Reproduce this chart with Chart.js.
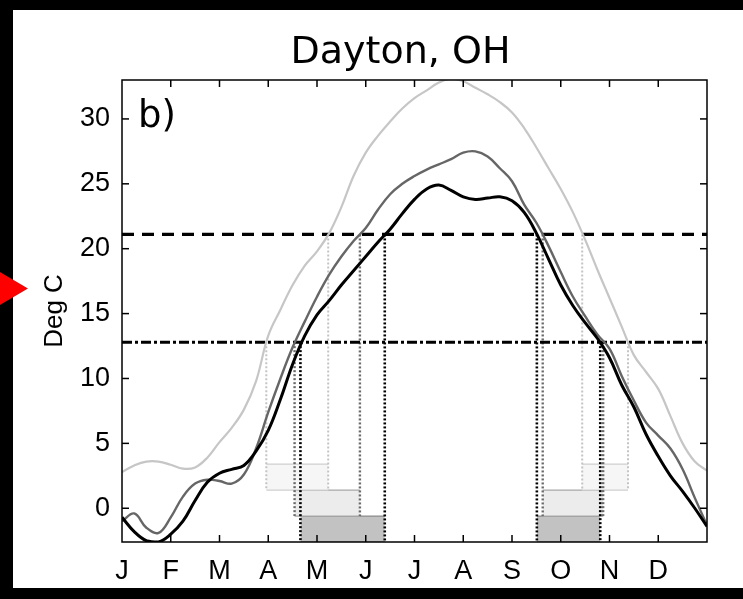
<!DOCTYPE html>
<html><head><meta charset="utf-8">
<script src="https://cdn.jsdelivr.net/npm/chart.js@4.4.1/dist/chart.umd.min.js"></script>
<style>html,body{margin:0;padding:0;background:#000;overflow:hidden}</style>
</head><body>
<canvas id="c" width="743" height="599"></canvas>
<script>
// ---- data ----
const chartTitle = 'Dayton, OH';
const monthLabels = ['J','F','M','A','M','J','J','A','S','O','N','D',''];
const xTicks = [0,1,2,3,4,5,6,7,8,9,10,11,12];
const yTicks = [0,5,10,15,20,25,30];
const monthPos = [0,0.25,0.5,0.75,1,1.25,1.5,1.75,2,2.25,2.5,2.75,3,3.25,3.5,3.75,4,4.25,4.5,4.75,5,5.25,5.5,5.75,6,6.25,6.5,6.75,7,7.25,7.5,7.75,8,8.25,8.5,8.75,9,9.25,9.5,9.75,10,10.25,10.5,10.75,11,11.25,11.5,11.75,12];
const upperCurve = [2.8,3.3,3.6,3.6,3.35,3.05,3.15,3.9,5.1,6.2,7.6,9.8,13.3,15.3,17.2,18.7,19.8,21.2,23.2,25.6,27.4,28.7,29.8,30.8,31.6,32.2,32.8,33.1,32.9,32.4,31.9,31.3,30.5,29.3,27.8,26.2,24.6,22.8,20.7,18.4,16.2,14.0,11.8,10.5,9.2,7.1,5.0,3.6,2.9];
const middleCurve = [-1.0,-0.4,-1.5,-1.9,-0.7,0.9,1.9,2.2,2.1,1.9,2.6,4.6,7.4,10.0,12.4,14.4,16.3,18.0,19.4,20.6,21.6,23.0,24.2,25.0,25.6,26.1,26.5,26.9,27.4,27.5,27.1,26.2,25.2,23.4,22.0,20.2,18.2,16.3,14.8,13.4,12.3,10.2,8.3,6.6,5.6,4.6,3.0,0.8,-1.3];
const lowerCurve = [-0.7,-1.8,-2.5,-2.6,-2.0,-1.0,0.6,2.0,2.7,3.0,3.3,4.4,6.0,8.4,11.1,13.3,14.9,16.0,17.2,18.3,19.4,20.5,21.5,22.7,23.8,24.6,24.9,24.5,24.0,23.8,23.9,24.0,23.7,22.8,21.2,19.2,17.2,15.6,14.3,13.1,11.6,9.5,7.8,5.7,4.0,2.5,1.3,0.0,-1.4];
const thresholds = [12.8, 21.1];           // lower (dash-dot), upper (dashed)
// periods between threshold crossings: [spring start, spring end], [fall start, fall end]
const upperPeriods  = [[2.96, 4.23], [9.44, 10.38]];
const middlePeriods = [[3.54, 4.88], [8.63, 9.87]];
const lowerPeriods  = [[3.66, 5.39], [8.51, 9.81]];
const bandTops    = [3.4, 1.4, -0.6];
const bandBottoms = [1.4, -0.6, -2.6];
const yMin = -2.6, yMax = 33.0;

// ---- styles ----
const curveStyles = [
  {color:'#c6c6c6', width:2.2},
  {color:'#666666', width:2.4},
  {color:'#000000', width:3}
];
const boxStyles = [
  {fill:'#f6f6f6', edge:'#cfcfcf', dot:'#c4c4c4', dotW:2},
  {fill:'#ececec', edge:'#a8a8a8', dot:'#6a6a6a', dotW:2.4},
  {fill:'#c2c2c2', edge:'#8a8a8a', dot:'#000000', dotW:2.6}
];

const curves = [upperCurve, middleCurve, lowerCurve];
const periods = [upperPeriods, middlePeriods, lowerPeriods];

const datasets = [];
curves.forEach((vals, i) => {
  datasets.push({
    type:'line', data: monthPos.map((m,k)=>({x:m, y:vals[k]})),
    borderColor: curveStyles[i].color, borderWidth: curveStyles[i].width,
    pointRadius:0, tension:0.4, fill:false, order: 10 - i
  });
});
// threshold lines
datasets.push({type:'line', data:[{x:xTicks[0],y:thresholds[1]},{x:xTicks[12],y:thresholds[1]}],
  borderColor:'#000', borderWidth:3.2, borderDash:[12,8], pointRadius:0, order:20});
datasets.push({type:'line', data:[{x:xTicks[0],y:thresholds[0]},{x:xTicks[12],y:thresholds[0]}],
  borderColor:'#000', borderWidth:3, borderDash:[10,3,3,3], pointRadius:0, order:20});

periods.forEach((ps, i) => {
  const st = boxStyles[i];
  ps.forEach((p, j) => {
    datasets.push({type:'line', data:[{x:p[0],y:bandTops[i]},{x:p[1],y:bandTops[i]}],
      borderColor: st.edge, borderWidth:1.2, backgroundColor: st.fill,
      fill:{value: bandBottoms[i]}, pointRadius:0, order:60});
    datasets.push({type:'line', data:[{x:p[0],y:bandBottoms[i]},{x:p[1],y:bandBottoms[i]}],
      borderColor: st.edge, borderWidth:1.2, pointRadius:0, order:59});
    const startThr = j === 0 ? thresholds[0] : thresholds[1];
    const endThr   = j === 0 ? thresholds[1] : thresholds[0];
    datasets.push({type:'line', data:[{x:p[0],y:startThr},{x:p[0],y:bandBottoms[i]}],
      borderColor: st.dot, borderWidth: st.dotW, borderDash:[2,2], pointRadius:0, order:40 - i});
    datasets.push({type:'line', data:[{x:p[1],y:endThr},{x:p[1],y:bandBottoms[i]}],
      borderColor: st.dot, borderWidth: st.dotW, borderDash:[2,2], pointRadius:0, order:40 - i});
  });
});

const framePlugin = {
  id:'frame',
  beforeDraw(chart){
    const ctx = chart.ctx;
    ctx.save();
    ctx.fillStyle = '#000';
    ctx.fillRect(0,0,chart.width,chart.height);
    ctx.fillStyle = '#fff';
    ctx.fillRect(13,10,chart.width-13,578);
    ctx.restore();
  },
  afterDraw(chart){
    const {ctx, chartArea:a, scales:{x,y}} = chart;
    ctx.save();
    ctx.strokeStyle = '#000';
    ctx.lineWidth = 1.5;
    const ln = (x1,y1,x2,y2)=>{ctx.beginPath();ctx.moveTo(x1,y1);ctx.lineTo(x2,y2);ctx.stroke();};
    x.ticks.forEach(t=>{
      const px = x.getPixelForValue(t.value);
      if (px <= a.left+1 || px >= a.right-1) return;
      ln(px,a.bottom,px,a.bottom-7);
      ln(px,a.top,px,a.top+7);
    });
    y.ticks.forEach(t=>{
      const py = y.getPixelForValue(t.value);
      ln(a.left,py,a.left+7,py);
      ln(a.right,py,a.right-7,py);
    });
    ctx.strokeRect(a.left,a.top,a.right-a.left,a.bottom-a.top);
    ctx.fillStyle = '#000';
    // title
    ctx.font = '38px "DejaVu Sans"';
    ctx.textAlign = 'center';
    ctx.textBaseline = 'alphabetic';
    ctx.fillText(chartTitle, (a.left + a.right)/2 - 14, a.top - 17);
    // panel label
    ctx.font = '37px "DejaVu Sans"';
    ctx.textAlign = 'left';
    ctx.fillText('b)', a.left + 16, a.top + 47);
    // red pointer
    ctx.fillStyle = '#ff0000';
    ctx.beginPath();
    ctx.moveTo(0,272); ctx.lineTo(28,288.5); ctx.lineTo(0,305); ctx.closePath();
    ctx.fill();
    ctx.restore();
  }
};

new Chart(document.getElementById('c'), {
  type:'line',
  data:{datasets},
  plugins:[framePlugin],
  options:{
    responsive:false, animation:false, devicePixelRatio:1,
    layout:{padding:{left:0,right:36,top:80,bottom:0}},
    plugins:{ legend:{display:false}, tooltip:{enabled:false}, title:{display:false} },
    scales:{
      x:{type:'linear', min:0, max:12,
        afterBuildTicks:s=>{s.ticks = xTicks.map(v=>({value:v}));},
        afterFit:s=>{s.height = 57;},
        ticks:{callback:(v)=>monthLabels[xTicks.indexOf(v)], color:'#000', padding:13.5,
          font:{family:'Liberation Sans', size:27}, maxRotation:0, autoSkip:false},
        grid:{display:false, drawTicks:false}, border:{display:false}},
      y:{type:'linear', min:yMin, max:yMax,
        afterBuildTicks:s=>{s.ticks = yTicks.map(v=>({value:v}));},
        afterFit:s=>{s.width = 122;},
        ticks:{color:'#000', padding:12, font:{family:'Liberation Sans', size:27}},
        grid:{display:false, drawTicks:false}, border:{display:false},
        title:{display:true, text:'Deg C', color:'#000', font:{family:'Liberation Sans', size:26},
          padding:{top:39, bottom:0}}}
    }
  }
});
</script>
</body></html>
